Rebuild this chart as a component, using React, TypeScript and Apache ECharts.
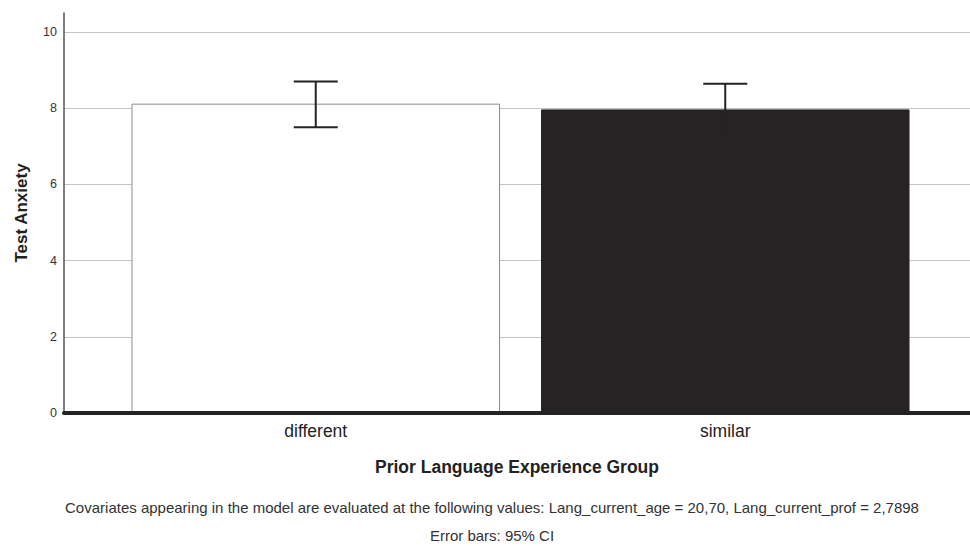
import React, { useEffect, useRef } from "react";
import * as echarts from "echarts";

const categories = ["different", "similar"];
const means = [8.12, 7.97];
const ciLower = [7.5, 7.28];
const ciUpper = [8.7, 8.64];
const barColors = ["#ffffff", "#262324"];
const yTicks = { min: 0, max: 10.5, interval: 2 };
const xAxisTitle = "Prior Language Experience Group";
const yAxisTitle = "Test Anxiety";
const footnote1 =
  "Covariates appearing in the model are evaluated at the following values: Lang_current_age = 20,70, Lang_current_prof = 2,7898";
const footnote2 = "Error bars: 95% CI";

const FONT = "'Liberation Sans', Arial, Helvetica, sans-serif";

export default function App() {
  const ref = useRef<HTMLDivElement>(null);
  useEffect(() => {
    if (!ref.current) return;
    const chart = echarts.init(ref.current, null, { renderer: "svg" });
    const errData = categories.map((_, i) => [i, ciLower[i], ciUpper[i]]);
    chart.setOption({
      animation: false,
      backgroundColor: "#ffffff",
      textStyle: { fontFamily: FONT },
      grid: [
        { left: 64, right: 0, top: 13, bottom: 133 },
        { left: 111, right: 40, top: 13, bottom: 133 },
      ],
      xAxis: [
        {
          gridIndex: 0,
          type: "value",
          min: 0,
          max: 1,
          axisLine: { show: true, lineStyle: { color: "#232323", width: 4 } },
          axisTick: { show: false },
          axisLabel: { show: false },
          splitLine: { show: false },
          name: xAxisTitle,
          nameLocation: "middle",
          nameGap: 45,
          nameTextStyle: { fontSize: 17.5, fontWeight: "bold", color: "#222", fontFamily: FONT },
          z: 5,
        },
        {
          gridIndex: 1,
          type: "category",
          data: categories,
          axisLine: { show: false },
          axisTick: { show: false },
          axisLabel: { fontSize: 17.5, color: "#222", margin: 9, fontFamily: FONT },
        },
      ],
      yAxis: [
        {
          gridIndex: 0,
          type: "value",
          min: yTicks.min,
          max: yTicks.max,
          interval: yTicks.interval,
          axisLine: { show: true, lineStyle: { color: "#555", width: 1.5 } },
          axisTick: { show: false },
          axisLabel: { fontSize: 12.5, color: "#333", margin: 7, showMaxLabel: false, fontFamily: FONT },
          splitLine: { show: true, showMaxLine: false, lineStyle: { color: "#c4c4c4", width: 1 } },
          name: yAxisTitle,
          nameLocation: "middle",
          nameGap: 34,
          nameTextStyle: { fontSize: 17, fontWeight: "bold", color: "#222", fontFamily: FONT },
        },
        {
          gridIndex: 1,
          type: "value",
          min: yTicks.min,
          max: yTicks.max,
          interval: yTicks.interval,
          show: false,
        },
      ],
      series: [
        {
          type: "bar",
          xAxisIndex: 1,
          yAxisIndex: 1,
          barCategoryGap: "10%",
          data: means.map((v, i) => ({
            value: v,
            itemStyle: {
              color: barColors[i],
              borderColor: i === 0 ? "#8c8c8c" : "#262324",
              borderWidth: 1,
            },
          })),
          z: 2,
        },
        {
          type: "custom",
          xAxisIndex: 1,
          yAxisIndex: 1,
          data: errData,
          z: 10,
          renderItem: (params: any, api: any) => {
            const x = api.value(0);
            const lo = api.coord([x, api.value(1)]);
            const hi = api.coord([x, api.value(2)]);
            const hw = 22;
            const style = { stroke: "#242223", lineWidth: 2, fill: "none" };
            return {
              type: "group",
              children: [
                { type: "line", shape: { x1: hi[0], y1: hi[1], x2: lo[0], y2: lo[1] }, style },
                { type: "line", shape: { x1: hi[0] - hw, y1: hi[1], x2: hi[0] + hw, y2: hi[1] }, style },
                { type: "line", shape: { x1: lo[0] - hw, y1: lo[1], x2: lo[0] + hw, y2: lo[1] }, style },
              ],
            };
          },
        },
      ],
      graphic: [
        {
          type: "text",
          x: 492,
          y: 507,
          style: {
            text: footnote1,
            fontSize: 15,
            fill: "#333",
            fontFamily: FONT,
            textAlign: "center",
            textVerticalAlign: "middle",
          },
        },
        {
          type: "text",
          x: 492,
          y: 535,
          style: {
            text: footnote2,
            fontSize: 15,
            fill: "#333",
            fontFamily: FONT,
            textAlign: "center",
            textVerticalAlign: "middle",
          },
        },
      ],
    });
    return () => chart.dispose();
  }, []);
  return (
    <div
      ref={ref}
      style={{ position: "fixed", left: 0, top: 0, width: 970, height: 546, background: "#fff" }}
    />
  );
}
